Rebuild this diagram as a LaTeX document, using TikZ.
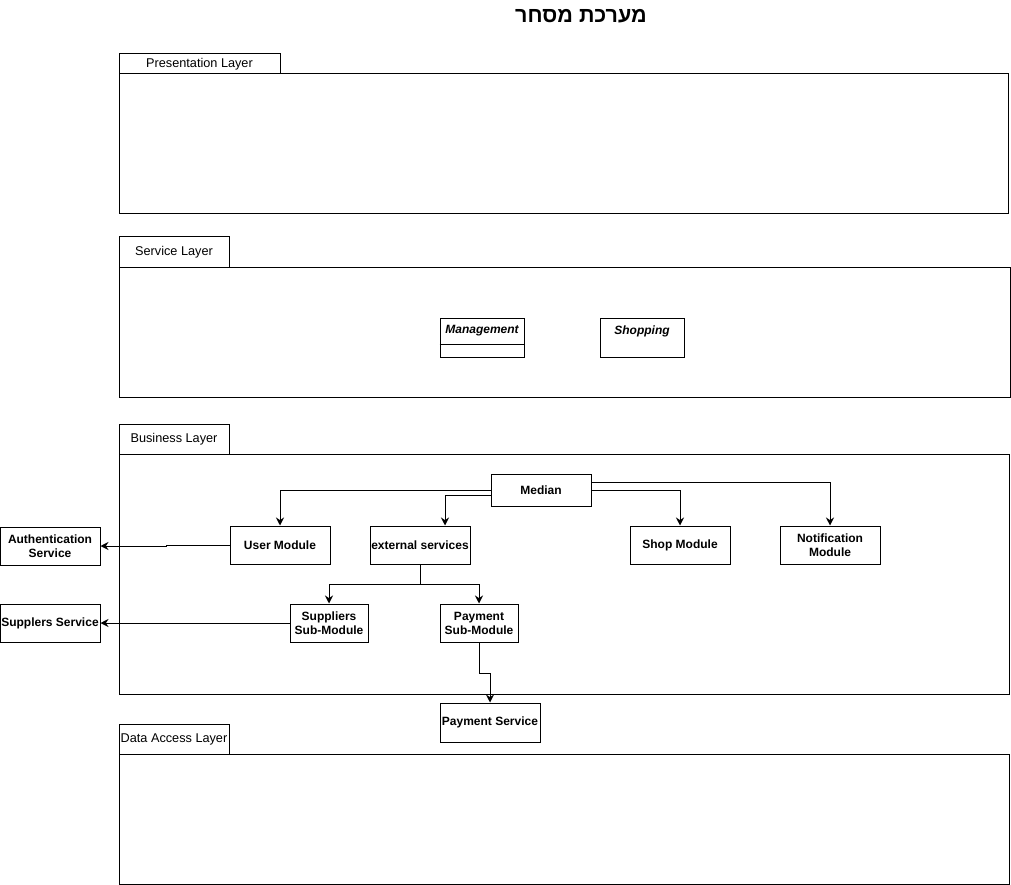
\documentclass[tikz,border=0pt]{standalone}
\usepackage{fontspec}
\setmainfont{Liberation Sans}
\newfontfamily\hebfont[Script=Hebrew]{Liberation Sans}
\TeXXeTstate=1
\usetikzlibrary{arrows.meta}

\begin{document}
\begin{tikzpicture}[x=1pt,y=-1pt,line width=1pt,
  box/.style={draw,inner sep=0pt,align=center,font=\fontsize{12}{14}\selectfont\bfseries},
  frame/.style={draw,inner sep=0pt},
  tab/.style={draw,inner sep=0pt,font=\fontsize{12.7}{14}\selectfont},
  classname/.style={inner sep=0pt,font=\fontsize{12}{14}\selectfont\bfseries\itshape},
  link/.style={-{Stealth[length=8pt,width=8pt]}}]
\useasboundingbox (0,0) rectangle (1011,885);

% title
\node[font=\hebfont\bfseries\fontsize{21.5}{24}\selectfont] (title) at (581,16) {\beginR מערכת מסחר\endR};

% presentation layer
\node[frame,minimum width=889pt,minimum height=140pt] (pres) at (563.5,144) {};
\node[tab,minimum width=161pt,minimum height=20pt] (prestab) at (199.5,64) {Presentation Layer};

% service layer
\node[frame,minimum width=891pt,minimum height=130pt] (serv) at (564.5,332) {};
\node[tab,minimum width=110pt,minimum height=30pt] (servtab) at (174,252) {Service Layer};
\node[frame,minimum width=84pt,minimum height=39pt] (mgmt) at (482,337.5) {};
\draw (mgmt.west |- 0,344) -- (mgmt.east |- 0,344);
\node[classname] (mgmtname) at (482,331) {Management};
\node[frame,minimum width=84pt,minimum height=39pt] (shopping) at (642,337.5) {};
\node[classname] (shoppingname) at (642,331) {Shopping};

% business layer
\node[frame,minimum width=890pt,minimum height=240pt] (bus) at (564,574) {};
\node[tab,minimum width=110pt,minimum height=30pt] (bustab) at (174,439) {Business Layer};

\node[box,minimum width=100pt,minimum height=32pt] (median) at (541,490) {Median};
\node[box,minimum width=100pt,minimum height=38pt] (user) at (280,545) {User Module};
\node[box,minimum width=100pt,minimum height=38pt] (ext) at (420,545) {external services};
\node[box,minimum width=100pt,minimum height=38pt] (shop) at (680,545) {Shop Module};
\node[box,minimum width=100pt,minimum height=38pt] (notif) at (830,545) {Notification\\Module};
\node[box,minimum width=100pt,minimum height=38pt] (auth) at (50,546) {Authentication\\Service};
\node[box,minimum width=100pt,minimum height=38pt] (supsvc) at (50,623) {Supplers Service};
\node[box,minimum width=78pt,minimum height=38pt] (supsub) at (329,623) {Suppliers\\Sub-Module};
\node[box,minimum width=78pt,minimum height=38pt] (paysub) at (479,623) {Payment\\Sub-Module};
\node[box,minimum width=100pt,minimum height=39pt] (paysvc) at (490,722.5) {Payment Service};

% data access layer
\node[frame,minimum width=890pt,minimum height=130pt] (data) at (564,819) {};
\node[tab,minimum width=110pt,minimum height=30pt] (datatab) at (174,739) {Data Access Layer};

% connectors
\coordinate (extsplit) at (420,584);
\coordinate (payjog) at (479,673);
\coordinate (userjog) at (166,545);
\draw[link] (median.west) -| (user.north);
\draw[link] ([yshift=-5pt]median.west) -| ([xshift=25pt]ext.north);
\draw[link] (median.east) -| (shop.north);
\draw[link] ([yshift=8pt]median.east) -| (notif.north);
\draw[link] (user.west) -- (userjog) -- (userjog |- auth.east) -- (auth.east);
\draw (ext.south) -- (extsplit);
\draw[link] (extsplit) -| (supsub.north);
\draw[link] (extsplit) -| (paysub.north);
\draw[link] (supsub.west) -- (supsvc.east);
\draw[link] (paysub.south) -- (payjog) -| (paysvc.north);
\end{tikzpicture}
\end{document}
